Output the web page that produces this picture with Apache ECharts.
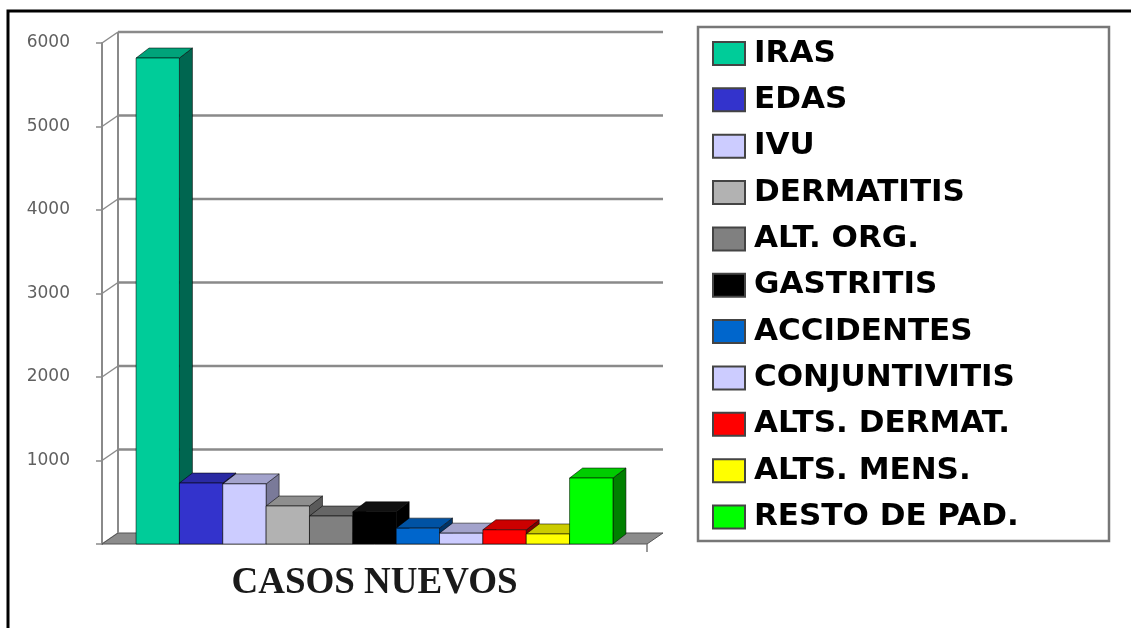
<!DOCTYPE html>
<html>
<head>
<meta charset="utf-8">
<script src="https://cdn.jsdelivr.net/npm/echarts@6/dist/echarts.min.js"></script>
<style>
  html, body { margin: 0; padding: 0; background: #fff; }
  #main { width: 1131px; height: 628px; }
</style>
</head>
<body>
<div id="main"></div>
<script>
// datos
var categories = ['IRAS', 'EDAS', 'IVU', 'DERMATITIS', 'ALT. ORG.', 'GASTRITIS',
                  'ACCIDENTES', 'CONJUNTIVITIS', 'ALTS. DERMAT.', 'ALTS. MENS.', 'RESTO DE PAD.'];
var casosNuevos = [5820, 730, 720, 455, 335, 385, 190, 130, 170, 120, 790];
var yTicks = [0, 1000, 2000, 3000, 4000, 5000, 6000];
var axisName = 'CASOS NUEVOS';

// colores de cada cara
var frontColors = ['#00CC99', '#3333CC', '#CCCCFF', '#B2B2B2', '#808080', '#000000',
                   '#0066CC', '#CCCCFF', '#FF0000', '#FFFF00', '#00FF00'];
var topColors = ['#00A37A', '#2A2AA3', '#A3A3CC', '#8E8E8E', '#666666', '#111111',
                 '#0052A3', '#A3A3CC', '#CC0000', '#CCCC00', '#00CC00'];
var sideColors = ['#006650', '#1A1A66', '#7A7A99', '#5A5A5A', '#404040', '#000000',
                  '#003366', '#7A7A99', '#800000', '#808000', '#008000'];

var WX = 16, WY = 11;   // profundidad de las paredes
var BX = 13, BY = 10;   // profundidad de las barras

var myChart = echarts.init(document.getElementById('main'));

function renderWall(params, api) {
    var cs = params.coordSys;
    var v = api.value(1);
    var p = api.coord([0, v]);
    var y = p[1];
    var x0 = cs.x, x1 = cs.x + cs.width;
    var grey = { stroke: '#8a8a8a', lineWidth: 2 };
    var children = [{
        type: 'line',
        shape: { x1: x0, y1: y, x2: x0 + WX, y2: y - WY },
        style: { stroke: '#8a8a8a', lineWidth: 1.5 }
    }];
    if (v === 0) {
        children.push({
            type: 'polygon',
            shape: { points: [[x0, y], [x1, y], [x1 + WX, y - WY], [x0 + WX, y - WY]] },
            style: { fill: '#8c8c8c', stroke: '#555', lineWidth: 1 }
        });
        children.push({
            type: 'line',
            shape: { x1: x0 + WX, y1: y - WY, x2: x0 + WX, y2: cs.y - WY },
            style: grey
        });
        children.push({
            type: 'line',
            shape: { x1: x1, y1: y, x2: x1, y2: y + 8 },
            style: { stroke: '#777', lineWidth: 1.5 }
        });
    } else {
        children.push({
            type: 'line',
            shape: { x1: x0 + WX, y1: y - WY, x2: x1 + WX, y2: y - WY },
            style: { stroke: '#8a8a8a', lineWidth: 2.5 }
        });
    }
    return { type: 'group', children: children };
}

function renderBar(params, api) {
    var idx = categories.indexOf(params.seriesName);
    var base = api.coord([0, 0]);
    var top = api.coord([0, api.value(1)]);
    var w = api.size([1, 0])[0] * 0.875 / categories.length;
    var x = base[0] + (idx - categories.length / 2) * w;
    var yb = base[1], yt = top[1];
    var edge = { stroke: 'rgba(0,0,0,0.55)', lineWidth: 1 };
    return {
        type: 'group',
        children: [
            { type: 'polygon',
              shape: { points: [[x + w, yt], [x + w + BX, yt - BY], [x + w + BX, yb - BY], [x + w, yb]] },
              style: Object.assign({ fill: sideColors[idx] }, edge) },
            { type: 'polygon',
              shape: { points: [[x, yt], [x + BX, yt - BY], [x + w + BX, yt - BY], [x + w, yt]] },
              style: Object.assign({ fill: topColors[idx] }, edge) },
            { type: 'rect',
              shape: { x: x, y: yt, width: w, height: yb - yt },
              style: Object.assign({ fill: frontColors[idx] }, edge) }
        ]
    };
}

var series = [{
    name: 'pared',
    type: 'custom',
    renderItem: renderWall,
    data: yTicks.map(function (v) { return [0, v]; }),
    silent: true
}];
categories.forEach(function (name, i) {
    series.push({
        name: name,
        type: 'custom',
        renderItem: renderBar,
        itemStyle: { color: frontColors[i] },
        data: [[0, casosNuevos[i]]]
    });
});

var option = {
    animation: false,
    color: frontColors,
    grid: { left: 102, right: 484, top: 43, bottom: 84 },
    graphic: [
        { type: 'polyline', shape: { points: [[8, 628], [8, 11], [1131, 11]] },
          style: { fill: null, stroke: '#000', lineWidth: 3 } },
        { type: 'rect', shape: { x: 698, y: 27, width: 411, height: 514 },
          style: { fill: null, stroke: '#777', lineWidth: 2.5 } }
    ],
    legend: {
        orient: 'vertical',
        left: 712,
        top: 38,
        padding: 0,
        icon: 'rect',
        itemWidth: 32,
        itemHeight: 23,
        itemGap: 15.35,
        selectedMode: false,
        itemStyle: { borderColor: '#444', borderWidth: 2 },
        textStyle: {
            fontFamily: 'DejaVu Sans',
            fontWeight: 'bold',
            fontSize: 31,
            color: '#000',
            padding: [0, 0, 0, 4]
        },
        data: categories.map(function (n, i) {
            return { name: n, itemStyle: { color: frontColors[i] } };
        })
    },
    xAxis: {
        type: 'category',
        data: [axisName],
        axisLine: { show: false },
        axisTick: { show: false },
        axisLabel: { show: false },
        name: axisName,
        nameLocation: 'middle',
        nameGap: 21,
        nameTextStyle: {
            fontFamily: 'Liberation Serif',
            fontWeight: 'bold',
            fontSize: 37,
            color: '#1a1a1a'
        }
    },
    yAxis: {
        type: 'value',
        min: 0,
        max: 6000,
        interval: 1000,
        axisLine: { show: true, lineStyle: { color: '#8a8a8a', width: 2 } },
        axisTick: { show: true, length: 6, lineStyle: { color: '#8a8a8a', width: 1.5 } },
        splitLine: { show: false },
        axisLabel: {
            margin: 32,
            fontFamily: 'DejaVu Sans',
            fontSize: 17,
            color: '#606060',
            formatter: function (v) { return v === 0 ? '' : String(v); }
        }
    },
    series: series
};

myChart.setOption(option);
</script>
</body>
</html>
